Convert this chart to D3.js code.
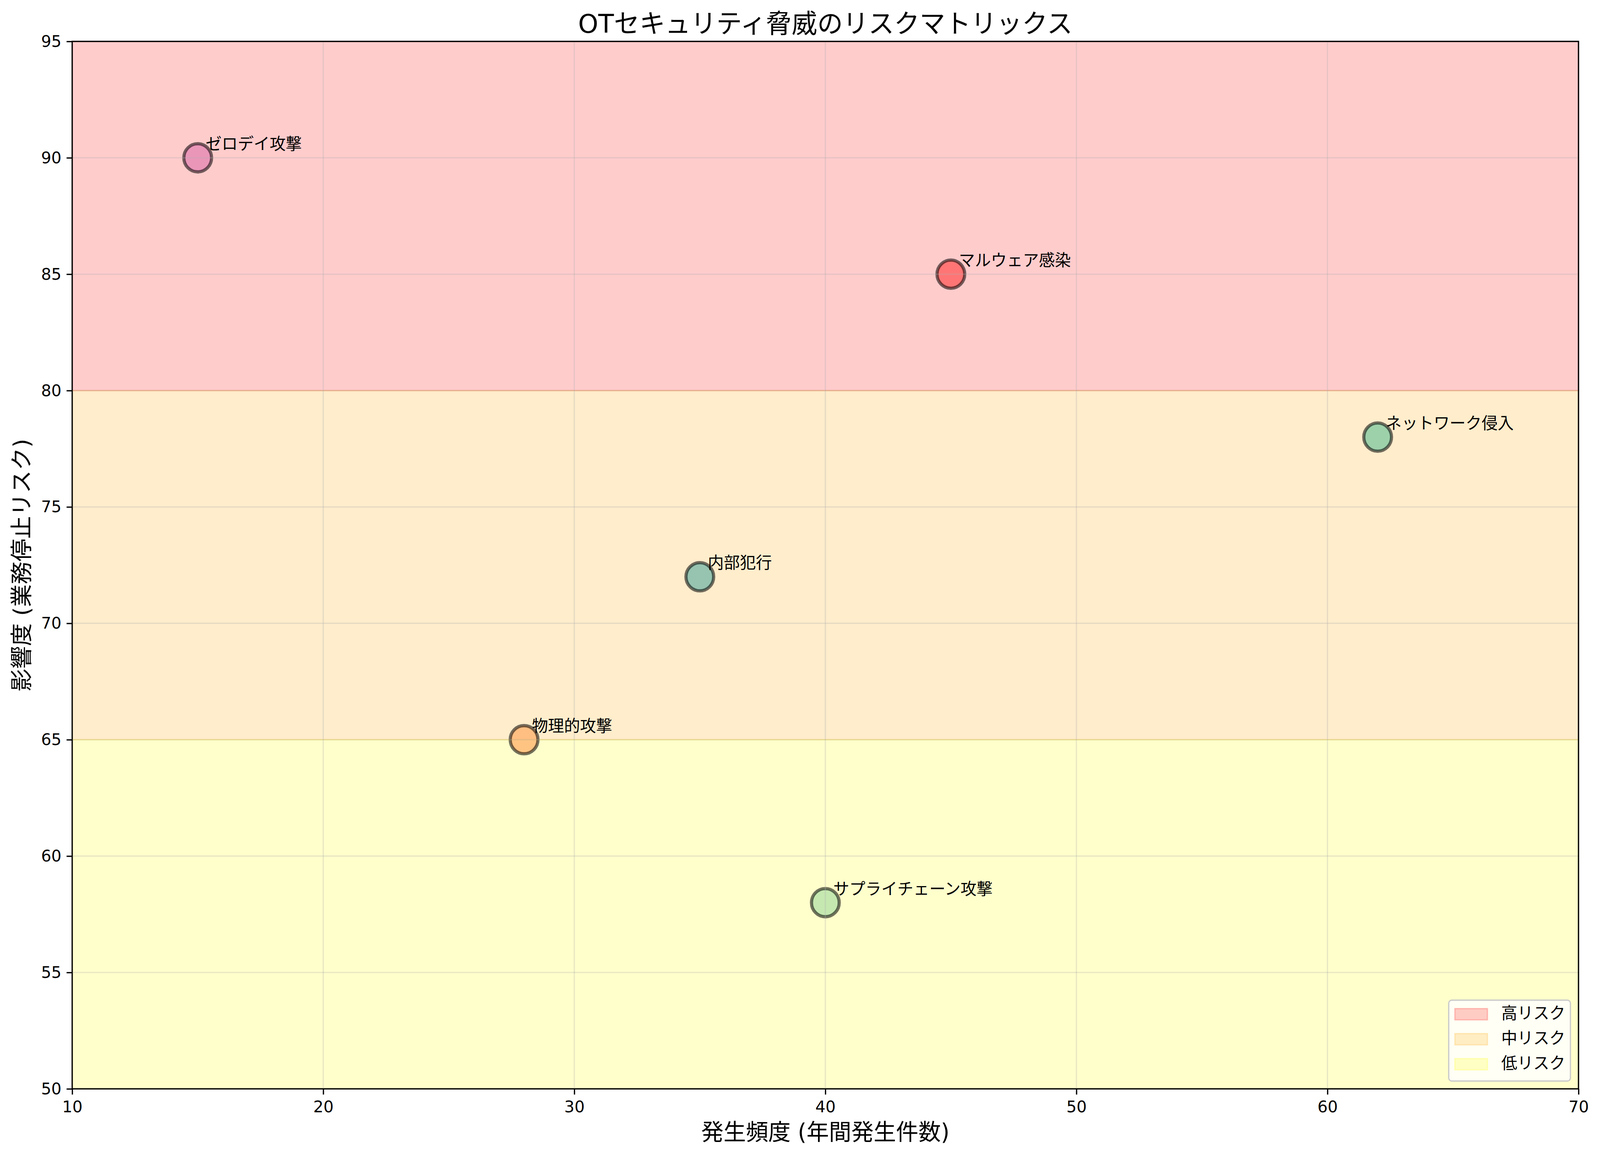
<!DOCTYPE html>
<html>
<head>
<meta charset="utf-8">
<script src="https://cdn.jsdelivr.net/npm/d3@7"></script>
<style>
    html, body { margin: 0; padding: 0; background: #fff; overflow: hidden; }
    svg { display: block; }
    text { font-family: "DejaVu Sans", "Noto Sans CJK JP", sans-serif; }
</style>
</head>
<body>
<script>
// threats
let threats = ['マルウェア感染', 'ネットワーク侵入', '内部犯行', '物理的攻撃', 'サプライチェーン攻撃', 'ゼロデイ攻撃'];
let frequency = [45, 62, 35, 28, 40, 15];
let impact = [85, 78, 72, 65, 58, 90];
let pointColors = ['#ff5050', '#73c49b', '#6ab2a4', '#ffab62', '#acdea4', '#e17fb1'];

// risk zones
let zoneNames = ['高リスク', '中リスク', '低リスク'];
let zoneFrom = [80, 65, 50];
let zoneTo = [95, 80, 65];
let zoneColors = ['red', 'orange', 'yellow'];

let xTicks = [10, 20, 30, 40, 50, 60, 70];
let yTicks = [50, 55, 60, 65, 70, 75, 80, 85, 90, 95];

let title = 'OTセキュリティ脅威のリスクマトリックス';
let xLabel = '発生頻度 (年間発生件数)';
let yLabel = '影響度 (業務停止リスク)';

let width = 4167, height = 2964;
let margin = {top: 106, right: 56, bottom: 177, left: 188};
let innerW = width - margin.left - margin.right;
let innerH = height - margin.top - margin.bottom;
let fs = 41.7;

let svg = d3.select('body').append('svg')
    .attr('width', '100vw')
    .attr('height', '100vh')
    .attr('viewBox', `0 0 ${width} ${height}`)
    .attr('preserveAspectRatio', 'none');

let g = svg.append('g')
    .attr('transform', `translate(${margin.left},${margin.top})`);

let x = d3.scaleLinear().domain([10, 70]).range([0, innerW]);
let y = d3.scaleLinear().domain([50, 95]).range([innerH, 0]);

let zones = zoneNames.map((d, i) => ({name: d, from: zoneFrom[i], to: zoneTo[i], color: zoneColors[i]}));

// zone bands
g.selectAll('rect.zone').data(zones).enter().append('rect')
    .attr('class', 'zone')
    .attr('x', 0)
    .attr('y', d => y(d.to))
    .attr('width', innerW)
    .attr('height', d => y(d.from) - y(d.to))
    .attr('fill', d => d.color).attr('fill-opacity', 0.2)
    .attr('stroke', d => d.color).attr('stroke-opacity', 0.2)
    .attr('stroke-width', 3.3);

let points = threats.map((d, i) => ({name: d, f: frequency[i], v: impact[i], color: pointColors[i]}));

// points
g.selectAll('circle.pt').data(points).enter().append('circle')
    .attr('class', 'pt')
    .attr('cx', d => x(d.f))
    .attr('cy', d => y(d.v))
    .attr('r', 36.1)
    .attr('fill', d => d.color).attr('fill-opacity', 0.7)
    .attr('stroke', 'black').attr('stroke-opacity', 0.55)
    .attr('stroke-width', 8.3);

// grid on top of the points, like matplotlib
g.selectAll('line.gx').data(xTicks).enter().append('line')
    .attr('x1', d => x(d)).attr('x2', d => x(d))
    .attr('y1', 0).attr('y2', innerH)
    .attr('stroke', '#b0b0b0').attr('stroke-opacity', 0.3).attr('stroke-width', 3.3);
g.selectAll('line.gy').data(yTicks).enter().append('line')
    .attr('x1', 0).attr('x2', innerW)
    .attr('y1', d => y(d)).attr('y2', d => y(d))
    .attr('stroke', '#b0b0b0').attr('stroke-opacity', 0.3).attr('stroke-width', 3.3);

// annotations
g.selectAll('text.lbl').data(points).enter().append('text')
    .attr('class', 'lbl')
    .attr('x', d => x(d.f) + 20.8)
    .attr('y', d => y(d.v) - 20.8)
    .attr('font-size', fs)
    .attr('fill', 'black')
    .text(d => d.name);

// axes
let xAxis = g.append('g')
    .attr('transform', `translate(0,${innerH})`)
    .call(d3.axisBottom(x).tickValues(xTicks).tickSize(14.6).tickSizeOuter(0).tickPadding(16));
let yAxis = g.append('g')
    .call(d3.axisLeft(y).tickValues(yTicks).tickSize(14.6).tickSizeOuter(0).tickPadding(13.4));

[xAxis, yAxis].forEach(a => {
    a.select('.domain').remove();
    a.selectAll('line').attr('stroke', 'black').attr('stroke-width', 3.3);
    a.selectAll('text').attr('font-size', fs).attr('fill', 'black')
        .style('font-family', '"DejaVu Sans", sans-serif');
});

// spines
g.append('rect')
    .attr('x', 0).attr('y', 0)
    .attr('width', innerW).attr('height', innerH)
    .attr('fill', 'none').attr('stroke', 'black').attr('stroke-width', 3.3);

// title and axis labels
svg.append('text')
    .attr('x', margin.left + innerW / 2).attr('y', 84)
    .attr('text-anchor', 'middle').attr('font-size', 66.7)
    .text(title);

svg.append('text')
    .attr('x', margin.left + innerW / 2).attr('y', 2918)
    .attr('text-anchor', 'middle').attr('font-size', 58.3)
    .text(xLabel);

svg.append('text')
    .attr('transform', `translate(76,${margin.top + innerH / 2}) rotate(-90)`)
    .attr('text-anchor', 'middle').attr('font-size', 58.3)
    .text(yLabel);

// legend
let lg = svg.append('g').attr('transform', 'translate(3773,2560)');
lg.append('rect')
    .attr('width', 317).attr('height', 207)
    .attr('rx', 8).attr('ry', 8)
    .attr('fill', 'white').attr('fill-opacity', 0.8)
    .attr('stroke', '#cccccc').attr('stroke-width', 3.3);

let rows = lg.selectAll('g.row').data(zones).enter().append('g')
    .attr('class', 'row')
    .attr('transform', (d, i) => `translate(0,${36 + i * 64})`);
rows.append('rect')
    .attr('x', 16).attr('y', -14.5)
    .attr('width', 85).attr('height', 29)
    .attr('fill', d => d.color).attr('fill-opacity', 0.2)
    .attr('stroke', d => d.color).attr('stroke-opacity', 0.2)
    .attr('stroke-width', 3.3);
rows.append('text')
    .attr('x', 137).attr('y', 12)
    .attr('font-size', fs)
    .text(d => d.name);
</script>
</body>
</html>
